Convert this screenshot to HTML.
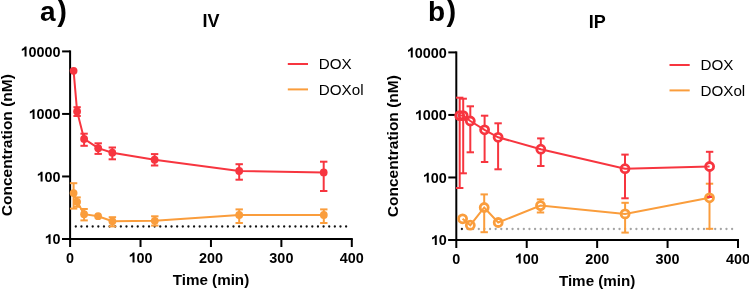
<!DOCTYPE html>
<html><head><meta charset="utf-8"><style>
html,body{margin:0;padding:0;background:#fff;}
body{width:749px;height:290px;overflow:hidden;position:relative;}
svg{position:absolute;left:0;top:0;will-change:transform;}
text{font-family:"Liberation Sans", sans-serif;fill:#000;}
.tk{font-size:14.4px;font-weight:bold;}
.al{font-size:15.2px;font-weight:bold;}
.yl{font-size:15.5px;}
.pl{font-size:29px;font-weight:bold;}
.ti{font-size:18px;font-weight:bold;}
.lg{font-size:15.2px;}
</style></head><body>
<svg width="749" height="290" viewBox="0 0 749 290">
<line x1="70.10" y1="50.40" x2="70.10" y2="240.00" stroke="#000" stroke-width="2"/>
<line x1="62.10" y1="239.00" x2="352.80" y2="239.00" stroke="#000" stroke-width="2"/>
<line x1="62.10" y1="51.40" x2="70.10" y2="51.40" stroke="#000" stroke-width="2"/>
<path d="M26.55,56.50L24.58,56.50L24.58,49.40Q23.51,50.31 21.82,50.88L21.82,48.98Q23.93,48.27 24.93,46.59L26.55,46.59Z" fill="#000"/>
<text x="28.57" y="56.50" class="tk">0</text>
<text x="36.57" y="56.50" class="tk">0</text>
<text x="44.58" y="56.50" class="tk">0</text>
<text x="52.59" y="56.50" class="tk">0</text>
<line x1="62.10" y1="113.93" x2="70.10" y2="113.93" stroke="#000" stroke-width="2"/>
<path d="M34.56,119.03L32.59,119.03L32.59,111.93Q31.52,112.85 29.83,113.41L29.83,111.51Q31.94,110.81 32.94,109.13L34.56,109.13Z" fill="#000"/>
<text x="36.57" y="119.03" class="tk">0</text>
<text x="44.58" y="119.03" class="tk">0</text>
<text x="52.59" y="119.03" class="tk">0</text>
<line x1="62.10" y1="176.47" x2="70.10" y2="176.47" stroke="#000" stroke-width="2"/>
<path d="M42.57,181.57L40.60,181.57L40.60,174.47Q39.53,175.38 37.84,175.94L37.84,174.04Q39.95,173.34 40.95,171.66L42.57,171.66Z" fill="#000"/>
<text x="44.58" y="181.57" class="tk">0</text>
<text x="52.59" y="181.57" class="tk">0</text>
<line x1="62.10" y1="239.00" x2="70.10" y2="239.00" stroke="#000" stroke-width="2"/>
<path d="M50.58,244.10L48.60,244.10L48.60,237.00Q47.54,237.91 45.85,238.47L45.85,236.58Q47.96,235.87 48.96,234.19L50.58,234.19Z" fill="#000"/>
<text x="52.59" y="244.10" class="tk">0</text>
<line x1="70.10" y1="239.00" x2="70.10" y2="247.00" stroke="#000" stroke-width="2"/>
<text x="66.10" y="262.50" class="tk">0</text>
<line x1="140.52" y1="239.00" x2="140.52" y2="247.00" stroke="#000" stroke-width="2"/>
<path d="M134.51,262.50L132.53,262.50L132.53,255.40Q131.47,256.31 129.78,256.88L129.78,254.98Q131.89,254.27 132.89,252.59L134.51,252.59Z" fill="#000"/>
<text x="136.52" y="262.50" class="tk">0</text>
<text x="144.53" y="262.50" class="tk">0</text>
<line x1="210.95" y1="239.00" x2="210.95" y2="247.00" stroke="#000" stroke-width="2"/>
<text x="198.94" y="262.50" class="tk">2</text>
<text x="206.95" y="262.50" class="tk">0</text>
<text x="214.95" y="262.50" class="tk">0</text>
<line x1="281.38" y1="239.00" x2="281.38" y2="247.00" stroke="#000" stroke-width="2"/>
<text x="269.36" y="262.50" class="tk">3</text>
<text x="277.37" y="262.50" class="tk">0</text>
<text x="285.38" y="262.50" class="tk">0</text>
<line x1="351.80" y1="239.00" x2="351.80" y2="247.00" stroke="#000" stroke-width="2"/>
<text x="339.79" y="262.50" class="tk">4</text>
<text x="347.80" y="262.50" class="tk">0</text>
<text x="355.80" y="262.50" class="tk">0</text>
<text transform="translate(210.95,284.60)" text-anchor="middle" class="al">Time (min)</text>
<text transform="translate(11.60,145.20) rotate(-90)" text-anchor="middle" class="al yl">Concentration (nM)</text>
<text x="40.10" y="21.1" class="pl" style="font-size:28px">a</text>
<text x="57.20" y="21.1" class="pl">)</text>
<text x="202.40" y="26.80" class="ti">IV</text>
<line x1="287.80" y1="64.00" x2="308.00" y2="64.00" stroke="#F7353F" stroke-width="2"/>
<line x1="287.80" y1="89.40" x2="308.00" y2="89.40" stroke="#FA9D3C" stroke-width="2"/>
<text transform="translate(318.80,69.20)" class="lg">DOX</text>
<text transform="translate(318.80,94.50)" class="lg">DOXol</text>
<circle cx="75.80" cy="226.50" r="1.15" fill="#111"/>
<circle cx="81.43" cy="226.50" r="1.15" fill="#111"/>
<circle cx="87.06" cy="226.50" r="1.15" fill="#111"/>
<circle cx="92.69" cy="226.50" r="1.15" fill="#111"/>
<circle cx="98.33" cy="226.50" r="1.15" fill="#111"/>
<circle cx="103.96" cy="226.50" r="1.15" fill="#111"/>
<circle cx="109.59" cy="226.50" r="1.15" fill="#111"/>
<circle cx="115.22" cy="226.50" r="1.15" fill="#111"/>
<circle cx="120.85" cy="226.50" r="1.15" fill="#111"/>
<circle cx="126.48" cy="226.50" r="1.15" fill="#111"/>
<circle cx="132.11" cy="226.50" r="1.15" fill="#111"/>
<circle cx="137.74" cy="226.50" r="1.15" fill="#111"/>
<circle cx="143.38" cy="226.50" r="1.15" fill="#111"/>
<circle cx="149.01" cy="226.50" r="1.15" fill="#111"/>
<circle cx="154.64" cy="226.50" r="1.15" fill="#111"/>
<circle cx="160.27" cy="226.50" r="1.15" fill="#111"/>
<circle cx="165.90" cy="226.50" r="1.15" fill="#111"/>
<circle cx="171.53" cy="226.50" r="1.15" fill="#111"/>
<circle cx="177.16" cy="226.50" r="1.15" fill="#111"/>
<circle cx="182.79" cy="226.50" r="1.15" fill="#111"/>
<circle cx="188.43" cy="226.50" r="1.15" fill="#111"/>
<circle cx="194.06" cy="226.50" r="1.15" fill="#111"/>
<circle cx="199.69" cy="226.50" r="1.15" fill="#111"/>
<circle cx="205.32" cy="226.50" r="1.15" fill="#111"/>
<circle cx="210.95" cy="226.50" r="1.15" fill="#111"/>
<circle cx="216.58" cy="226.50" r="1.15" fill="#111"/>
<circle cx="222.21" cy="226.50" r="1.15" fill="#111"/>
<circle cx="227.84" cy="226.50" r="1.15" fill="#111"/>
<circle cx="233.48" cy="226.50" r="1.15" fill="#111"/>
<circle cx="239.11" cy="226.50" r="1.15" fill="#111"/>
<circle cx="244.74" cy="226.50" r="1.15" fill="#111"/>
<circle cx="250.37" cy="226.50" r="1.15" fill="#111"/>
<circle cx="256.00" cy="226.50" r="1.15" fill="#111"/>
<circle cx="261.63" cy="226.50" r="1.15" fill="#111"/>
<circle cx="267.26" cy="226.50" r="1.15" fill="#111"/>
<circle cx="272.89" cy="226.50" r="1.15" fill="#111"/>
<circle cx="278.53" cy="226.50" r="1.15" fill="#111"/>
<circle cx="284.16" cy="226.50" r="1.15" fill="#111"/>
<circle cx="289.79" cy="226.50" r="1.15" fill="#111"/>
<circle cx="295.42" cy="226.50" r="1.15" fill="#111"/>
<circle cx="301.05" cy="226.50" r="1.15" fill="#111"/>
<circle cx="306.68" cy="226.50" r="1.15" fill="#111"/>
<circle cx="312.31" cy="226.50" r="1.15" fill="#111"/>
<circle cx="317.94" cy="226.50" r="1.15" fill="#111"/>
<circle cx="323.58" cy="226.50" r="1.15" fill="#111"/>
<circle cx="329.21" cy="226.50" r="1.15" fill="#111"/>
<circle cx="334.84" cy="226.50" r="1.15" fill="#111"/>
<circle cx="340.47" cy="226.50" r="1.15" fill="#111"/>
<circle cx="346.10" cy="226.50" r="1.15" fill="#111"/>
<path d="M73.60,193.10 L77.10,201.80 L84.10,214.20 L98.10,216.20 L112.40,221.30 L154.80,220.80 L239.20,215.00 L323.80,215.00" fill="none" stroke="#FA9D3C" stroke-width="2"/>
<line x1="73.60" y1="183.20" x2="73.60" y2="208.60" stroke="#FA9D3C" stroke-width="2"/>
<line x1="69.90" y1="183.20" x2="77.30" y2="183.20" stroke="#FA9D3C" stroke-width="2"/>
<line x1="69.90" y1="208.60" x2="77.30" y2="208.60" stroke="#FA9D3C" stroke-width="2"/>
<line x1="77.10" y1="197.40" x2="77.10" y2="206.80" stroke="#FA9D3C" stroke-width="2"/>
<line x1="73.40" y1="197.40" x2="80.80" y2="197.40" stroke="#FA9D3C" stroke-width="2"/>
<line x1="73.40" y1="206.80" x2="80.80" y2="206.80" stroke="#FA9D3C" stroke-width="2"/>
<line x1="84.10" y1="209.00" x2="84.10" y2="220.40" stroke="#FA9D3C" stroke-width="2"/>
<line x1="80.40" y1="209.00" x2="87.80" y2="209.00" stroke="#FA9D3C" stroke-width="2"/>
<line x1="80.40" y1="220.40" x2="87.80" y2="220.40" stroke="#FA9D3C" stroke-width="2"/>
<line x1="112.40" y1="217.20" x2="112.40" y2="226.40" stroke="#FA9D3C" stroke-width="2"/>
<line x1="108.70" y1="217.20" x2="116.10" y2="217.20" stroke="#FA9D3C" stroke-width="2"/>
<line x1="108.70" y1="226.40" x2="116.10" y2="226.40" stroke="#FA9D3C" stroke-width="2"/>
<line x1="154.80" y1="216.30" x2="154.80" y2="225.60" stroke="#FA9D3C" stroke-width="2"/>
<line x1="151.10" y1="216.30" x2="158.50" y2="216.30" stroke="#FA9D3C" stroke-width="2"/>
<line x1="151.10" y1="225.60" x2="158.50" y2="225.60" stroke="#FA9D3C" stroke-width="2"/>
<line x1="239.20" y1="209.40" x2="239.20" y2="223.00" stroke="#FA9D3C" stroke-width="2"/>
<line x1="235.50" y1="209.40" x2="242.90" y2="209.40" stroke="#FA9D3C" stroke-width="2"/>
<line x1="235.50" y1="223.00" x2="242.90" y2="223.00" stroke="#FA9D3C" stroke-width="2"/>
<line x1="323.80" y1="209.40" x2="323.80" y2="223.00" stroke="#FA9D3C" stroke-width="2"/>
<line x1="320.10" y1="209.40" x2="327.50" y2="209.40" stroke="#FA9D3C" stroke-width="2"/>
<line x1="320.10" y1="223.00" x2="327.50" y2="223.00" stroke="#FA9D3C" stroke-width="2"/>
<path d="M73.60,70.80 L77.10,111.40 L84.10,138.90 L98.20,148.20 L112.30,152.70 L154.60,159.70 L239.20,171.00 L323.70,172.40" fill="none" stroke="#F7353F" stroke-width="2"/>
<line x1="77.10" y1="107.20" x2="77.10" y2="116.00" stroke="#F7353F" stroke-width="2"/>
<line x1="73.40" y1="107.20" x2="80.80" y2="107.20" stroke="#F7353F" stroke-width="2"/>
<line x1="73.40" y1="116.00" x2="80.80" y2="116.00" stroke="#F7353F" stroke-width="2"/>
<line x1="84.10" y1="133.70" x2="84.10" y2="145.80" stroke="#F7353F" stroke-width="2"/>
<line x1="80.40" y1="133.70" x2="87.80" y2="133.70" stroke="#F7353F" stroke-width="2"/>
<line x1="80.40" y1="145.80" x2="87.80" y2="145.80" stroke="#F7353F" stroke-width="2"/>
<line x1="98.20" y1="143.30" x2="98.20" y2="153.90" stroke="#F7353F" stroke-width="2"/>
<line x1="94.50" y1="143.30" x2="101.90" y2="143.30" stroke="#F7353F" stroke-width="2"/>
<line x1="94.50" y1="153.90" x2="101.90" y2="153.90" stroke="#F7353F" stroke-width="2"/>
<line x1="112.30" y1="147.50" x2="112.30" y2="159.30" stroke="#F7353F" stroke-width="2"/>
<line x1="108.60" y1="147.50" x2="116.00" y2="147.50" stroke="#F7353F" stroke-width="2"/>
<line x1="108.60" y1="159.30" x2="116.00" y2="159.30" stroke="#F7353F" stroke-width="2"/>
<line x1="154.60" y1="154.10" x2="154.60" y2="165.50" stroke="#F7353F" stroke-width="2"/>
<line x1="150.90" y1="154.10" x2="158.30" y2="154.10" stroke="#F7353F" stroke-width="2"/>
<line x1="150.90" y1="165.50" x2="158.30" y2="165.50" stroke="#F7353F" stroke-width="2"/>
<line x1="239.20" y1="164.20" x2="239.20" y2="179.70" stroke="#F7353F" stroke-width="2"/>
<line x1="235.50" y1="164.20" x2="242.90" y2="164.20" stroke="#F7353F" stroke-width="2"/>
<line x1="235.50" y1="179.70" x2="242.90" y2="179.70" stroke="#F7353F" stroke-width="2"/>
<line x1="323.70" y1="161.70" x2="323.70" y2="191.00" stroke="#F7353F" stroke-width="2"/>
<line x1="320.00" y1="161.70" x2="327.40" y2="161.70" stroke="#F7353F" stroke-width="2"/>
<line x1="320.00" y1="191.00" x2="327.40" y2="191.00" stroke="#F7353F" stroke-width="2"/>
<circle cx="73.60" cy="70.80" r="3.9" fill="#F7353F"/>
<circle cx="77.10" cy="111.40" r="3.9" fill="#F7353F"/>
<circle cx="84.10" cy="138.90" r="3.9" fill="#F7353F"/>
<circle cx="98.20" cy="148.20" r="3.9" fill="#F7353F"/>
<circle cx="112.30" cy="152.70" r="3.9" fill="#F7353F"/>
<circle cx="154.60" cy="159.70" r="3.9" fill="#F7353F"/>
<circle cx="239.20" cy="171.00" r="3.9" fill="#F7353F"/>
<circle cx="323.70" cy="172.40" r="3.9" fill="#F7353F"/>
<circle cx="73.60" cy="193.10" r="3.9" fill="#FA9D3C"/>
<circle cx="77.10" cy="201.80" r="3.9" fill="#FA9D3C"/>
<circle cx="84.10" cy="214.20" r="3.9" fill="#FA9D3C"/>
<circle cx="98.10" cy="216.20" r="3.9" fill="#FA9D3C"/>
<circle cx="112.40" cy="221.30" r="3.9" fill="#FA9D3C"/>
<circle cx="154.80" cy="220.80" r="3.9" fill="#FA9D3C"/>
<circle cx="239.20" cy="215.00" r="3.9" fill="#FA9D3C"/>
<circle cx="323.80" cy="215.00" r="3.9" fill="#FA9D3C"/>
<line x1="456.30" y1="51.40" x2="456.30" y2="241.00" stroke="#000" stroke-width="2"/>
<line x1="448.30" y1="240.00" x2="739.00" y2="240.00" stroke="#000" stroke-width="2"/>
<line x1="448.30" y1="52.40" x2="456.30" y2="52.40" stroke="#000" stroke-width="2"/>
<path d="M412.75,57.50L410.78,57.50L410.78,50.40Q409.71,51.31 408.02,51.88L408.02,49.98Q410.13,49.27 411.13,47.59L412.75,47.59Z" fill="#000"/>
<text x="414.77" y="57.50" class="tk">0</text>
<text x="422.77" y="57.50" class="tk">0</text>
<text x="430.78" y="57.50" class="tk">0</text>
<text x="438.79" y="57.50" class="tk">0</text>
<line x1="448.30" y1="114.93" x2="456.30" y2="114.93" stroke="#000" stroke-width="2"/>
<path d="M420.76,120.03L418.79,120.03L418.79,112.93Q417.72,113.85 416.03,114.41L416.03,112.51Q418.14,111.81 419.14,110.13L420.76,110.13Z" fill="#000"/>
<text x="422.77" y="120.03" class="tk">0</text>
<text x="430.78" y="120.03" class="tk">0</text>
<text x="438.79" y="120.03" class="tk">0</text>
<line x1="448.30" y1="177.47" x2="456.30" y2="177.47" stroke="#000" stroke-width="2"/>
<path d="M428.77,182.57L426.80,182.57L426.80,175.47Q425.73,176.38 424.04,176.94L424.04,175.04Q426.15,174.34 427.15,172.66L428.77,172.66Z" fill="#000"/>
<text x="430.78" y="182.57" class="tk">0</text>
<text x="438.79" y="182.57" class="tk">0</text>
<line x1="448.30" y1="240.00" x2="456.30" y2="240.00" stroke="#000" stroke-width="2"/>
<path d="M436.78,245.10L434.80,245.10L434.80,238.00Q433.74,238.91 432.05,239.47L432.05,237.58Q434.16,236.87 435.16,235.19L436.78,235.19Z" fill="#000"/>
<text x="438.79" y="245.10" class="tk">0</text>
<line x1="456.30" y1="240.00" x2="456.30" y2="248.00" stroke="#000" stroke-width="2"/>
<text x="452.30" y="263.50" class="tk">0</text>
<line x1="526.72" y1="240.00" x2="526.72" y2="248.00" stroke="#000" stroke-width="2"/>
<path d="M520.71,263.50L518.73,263.50L518.73,256.40Q517.67,257.31 515.98,257.88L515.98,255.98Q518.09,255.27 519.09,253.59L520.71,253.59Z" fill="#000"/>
<text x="522.72" y="263.50" class="tk">0</text>
<text x="530.73" y="263.50" class="tk">0</text>
<line x1="597.15" y1="240.00" x2="597.15" y2="248.00" stroke="#000" stroke-width="2"/>
<text x="585.14" y="263.50" class="tk">2</text>
<text x="593.15" y="263.50" class="tk">0</text>
<text x="601.15" y="263.50" class="tk">0</text>
<line x1="667.57" y1="240.00" x2="667.57" y2="248.00" stroke="#000" stroke-width="2"/>
<text x="655.56" y="263.50" class="tk">3</text>
<text x="663.57" y="263.50" class="tk">0</text>
<text x="671.58" y="263.50" class="tk">0</text>
<line x1="738.00" y1="240.00" x2="738.00" y2="248.00" stroke="#000" stroke-width="2"/>
<text x="725.99" y="263.50" class="tk">4</text>
<text x="734.00" y="263.50" class="tk">0</text>
<text x="742.00" y="263.50" class="tk">0</text>
<text transform="translate(597.15,285.60)" text-anchor="middle" class="al">Time (min)</text>
<text transform="translate(397.80,146.20) rotate(-90)" text-anchor="middle" class="al yl">Concentration (nM)</text>
<text x="428.10" y="21.1" class="pl" style="font-size:28px">b</text>
<text x="446.60" y="21.1" class="pl">)</text>
<text x="588.70" y="27.80" class="ti">IP</text>
<line x1="669.50" y1="65.00" x2="689.70" y2="65.00" stroke="#F7353F" stroke-width="2"/>
<line x1="669.50" y1="90.40" x2="689.70" y2="90.40" stroke="#FA9D3C" stroke-width="2"/>
<text transform="translate(700.50,70.20)" class="lg">DOX</text>
<text transform="translate(700.50,95.50)" class="lg">DOXol</text>
<circle cx="461.90" cy="229.00" r="1.15" fill="#222"/>
<circle cx="467.53" cy="229.00" r="1.15" fill="#a4a4a4"/>
<circle cx="473.16" cy="229.00" r="1.15" fill="#a4a4a4"/>
<circle cx="478.79" cy="229.00" r="1.15" fill="#a4a4a4"/>
<circle cx="484.42" cy="229.00" r="1.15" fill="#a4a4a4"/>
<circle cx="490.05" cy="229.00" r="1.15" fill="#a4a4a4"/>
<circle cx="495.67" cy="229.00" r="1.15" fill="#a4a4a4"/>
<circle cx="501.30" cy="229.00" r="1.15" fill="#a4a4a4"/>
<circle cx="506.93" cy="229.00" r="1.15" fill="#a4a4a4"/>
<circle cx="512.56" cy="229.00" r="1.15" fill="#a4a4a4"/>
<circle cx="518.19" cy="229.00" r="1.15" fill="#a4a4a4"/>
<circle cx="523.82" cy="229.00" r="1.15" fill="#a4a4a4"/>
<circle cx="529.45" cy="229.00" r="1.15" fill="#a4a4a4"/>
<circle cx="535.08" cy="229.00" r="1.15" fill="#a4a4a4"/>
<circle cx="540.71" cy="229.00" r="1.15" fill="#a4a4a4"/>
<circle cx="546.34" cy="229.00" r="1.15" fill="#a4a4a4"/>
<circle cx="551.97" cy="229.00" r="1.15" fill="#a4a4a4"/>
<circle cx="557.60" cy="229.00" r="1.15" fill="#a4a4a4"/>
<circle cx="563.23" cy="229.00" r="1.15" fill="#a4a4a4"/>
<circle cx="568.85" cy="229.00" r="1.15" fill="#a4a4a4"/>
<circle cx="574.48" cy="229.00" r="1.15" fill="#a4a4a4"/>
<circle cx="580.11" cy="229.00" r="1.15" fill="#a4a4a4"/>
<circle cx="585.74" cy="229.00" r="1.15" fill="#a4a4a4"/>
<circle cx="591.37" cy="229.00" r="1.15" fill="#a4a4a4"/>
<circle cx="597.00" cy="229.00" r="1.15" fill="#a4a4a4"/>
<circle cx="602.63" cy="229.00" r="1.15" fill="#a4a4a4"/>
<circle cx="608.26" cy="229.00" r="1.15" fill="#a4a4a4"/>
<circle cx="613.89" cy="229.00" r="1.15" fill="#a4a4a4"/>
<circle cx="619.52" cy="229.00" r="1.15" fill="#a4a4a4"/>
<circle cx="625.15" cy="229.00" r="1.15" fill="#a4a4a4"/>
<circle cx="630.77" cy="229.00" r="1.15" fill="#a4a4a4"/>
<circle cx="636.40" cy="229.00" r="1.15" fill="#a4a4a4"/>
<circle cx="642.03" cy="229.00" r="1.15" fill="#a4a4a4"/>
<circle cx="647.66" cy="229.00" r="1.15" fill="#a4a4a4"/>
<circle cx="653.29" cy="229.00" r="1.15" fill="#a4a4a4"/>
<circle cx="658.92" cy="229.00" r="1.15" fill="#a4a4a4"/>
<circle cx="664.55" cy="229.00" r="1.15" fill="#a4a4a4"/>
<circle cx="670.18" cy="229.00" r="1.15" fill="#a4a4a4"/>
<circle cx="675.81" cy="229.00" r="1.15" fill="#a4a4a4"/>
<circle cx="681.44" cy="229.00" r="1.15" fill="#a4a4a4"/>
<circle cx="687.07" cy="229.00" r="1.15" fill="#a4a4a4"/>
<circle cx="692.70" cy="229.00" r="1.15" fill="#a4a4a4"/>
<circle cx="698.33" cy="229.00" r="1.15" fill="#a4a4a4"/>
<circle cx="703.95" cy="229.00" r="1.15" fill="#a4a4a4"/>
<circle cx="709.58" cy="229.00" r="1.15" fill="#a4a4a4"/>
<circle cx="715.21" cy="229.00" r="1.15" fill="#a4a4a4"/>
<circle cx="720.84" cy="229.00" r="1.15" fill="#a4a4a4"/>
<circle cx="726.47" cy="229.00" r="1.15" fill="#a4a4a4"/>
<circle cx="732.10" cy="229.00" r="1.15" fill="#a4a4a4"/>
<path d="M462.60,218.80 L470.30,225.20 L484.20,207.50 L498.20,222.50 L540.50,205.60 L625.10,213.90 L709.50,197.80" fill="none" stroke="#FA9D3C" stroke-width="2"/>
<line x1="484.20" y1="194.40" x2="484.20" y2="203.30" stroke="#FA9D3C" stroke-width="2"/>
<line x1="484.20" y1="211.70" x2="484.20" y2="232.20" stroke="#FA9D3C" stroke-width="2"/>
<line x1="480.50" y1="194.40" x2="487.90" y2="194.40" stroke="#FA9D3C" stroke-width="2"/>
<line x1="480.50" y1="232.20" x2="487.90" y2="232.20" stroke="#FA9D3C" stroke-width="2"/>
<line x1="540.50" y1="199.40" x2="540.50" y2="201.40" stroke="#FA9D3C" stroke-width="2"/>
<line x1="540.50" y1="209.80" x2="540.50" y2="212.50" stroke="#FA9D3C" stroke-width="2"/>
<line x1="536.80" y1="199.40" x2="544.20" y2="199.40" stroke="#FA9D3C" stroke-width="2"/>
<line x1="536.80" y1="212.50" x2="544.20" y2="212.50" stroke="#FA9D3C" stroke-width="2"/>
<line x1="625.10" y1="202.80" x2="625.10" y2="209.70" stroke="#FA9D3C" stroke-width="2"/>
<line x1="625.10" y1="218.10" x2="625.10" y2="232.60" stroke="#FA9D3C" stroke-width="2"/>
<line x1="621.40" y1="202.80" x2="628.80" y2="202.80" stroke="#FA9D3C" stroke-width="2"/>
<line x1="621.40" y1="232.60" x2="628.80" y2="232.60" stroke="#FA9D3C" stroke-width="2"/>
<line x1="709.50" y1="183.70" x2="709.50" y2="193.60" stroke="#FA9D3C" stroke-width="2"/>
<line x1="709.50" y1="202.00" x2="709.50" y2="228.80" stroke="#FA9D3C" stroke-width="2"/>
<line x1="705.80" y1="183.70" x2="713.20" y2="183.70" stroke="#FA9D3C" stroke-width="2"/>
<line x1="705.80" y1="228.80" x2="713.20" y2="228.80" stroke="#FA9D3C" stroke-width="2"/>
<path d="M459.70,115.60 L463.20,115.60 L470.30,121.00 L484.60,129.80 L498.10,137.30 L540.80,149.20 L625.00,168.70 L709.60,166.50" fill="none" stroke="#F7353F" stroke-width="2"/>
<line x1="459.70" y1="97.70" x2="459.70" y2="111.40" stroke="#F7353F" stroke-width="2"/>
<line x1="459.70" y1="119.80" x2="459.70" y2="188.00" stroke="#F7353F" stroke-width="2"/>
<line x1="456.00" y1="97.70" x2="463.40" y2="97.70" stroke="#F7353F" stroke-width="2"/>
<line x1="456.00" y1="188.00" x2="463.40" y2="188.00" stroke="#F7353F" stroke-width="2"/>
<line x1="463.20" y1="98.70" x2="463.20" y2="111.40" stroke="#F7353F" stroke-width="2"/>
<line x1="463.20" y1="119.80" x2="463.20" y2="173.30" stroke="#F7353F" stroke-width="2"/>
<line x1="459.50" y1="98.70" x2="466.90" y2="98.70" stroke="#F7353F" stroke-width="2"/>
<line x1="459.50" y1="173.30" x2="466.90" y2="173.30" stroke="#F7353F" stroke-width="2"/>
<line x1="470.30" y1="106.30" x2="470.30" y2="116.80" stroke="#F7353F" stroke-width="2"/>
<line x1="470.30" y1="125.20" x2="470.30" y2="152.30" stroke="#F7353F" stroke-width="2"/>
<line x1="466.60" y1="106.30" x2="474.00" y2="106.30" stroke="#F7353F" stroke-width="2"/>
<line x1="466.60" y1="152.30" x2="474.00" y2="152.30" stroke="#F7353F" stroke-width="2"/>
<line x1="484.60" y1="115.70" x2="484.60" y2="125.60" stroke="#F7353F" stroke-width="2"/>
<line x1="484.60" y1="134.00" x2="484.60" y2="162.00" stroke="#F7353F" stroke-width="2"/>
<line x1="480.90" y1="115.70" x2="488.30" y2="115.70" stroke="#F7353F" stroke-width="2"/>
<line x1="480.90" y1="162.00" x2="488.30" y2="162.00" stroke="#F7353F" stroke-width="2"/>
<line x1="498.10" y1="123.30" x2="498.10" y2="133.10" stroke="#F7353F" stroke-width="2"/>
<line x1="498.10" y1="141.50" x2="498.10" y2="169.30" stroke="#F7353F" stroke-width="2"/>
<line x1="494.40" y1="123.30" x2="501.80" y2="123.30" stroke="#F7353F" stroke-width="2"/>
<line x1="494.40" y1="169.30" x2="501.80" y2="169.30" stroke="#F7353F" stroke-width="2"/>
<line x1="540.80" y1="138.40" x2="540.80" y2="145.00" stroke="#F7353F" stroke-width="2"/>
<line x1="540.80" y1="153.40" x2="540.80" y2="166.00" stroke="#F7353F" stroke-width="2"/>
<line x1="537.10" y1="138.40" x2="544.50" y2="138.40" stroke="#F7353F" stroke-width="2"/>
<line x1="537.10" y1="166.00" x2="544.50" y2="166.00" stroke="#F7353F" stroke-width="2"/>
<line x1="625.00" y1="154.60" x2="625.00" y2="164.50" stroke="#F7353F" stroke-width="2"/>
<line x1="625.00" y1="172.90" x2="625.00" y2="198.30" stroke="#F7353F" stroke-width="2"/>
<line x1="621.30" y1="154.60" x2="628.70" y2="154.60" stroke="#F7353F" stroke-width="2"/>
<line x1="621.30" y1="198.30" x2="628.70" y2="198.30" stroke="#F7353F" stroke-width="2"/>
<line x1="709.60" y1="151.80" x2="709.60" y2="162.30" stroke="#F7353F" stroke-width="2"/>
<line x1="709.60" y1="170.70" x2="709.60" y2="197.00" stroke="#F7353F" stroke-width="2"/>
<line x1="705.90" y1="151.80" x2="713.30" y2="151.80" stroke="#F7353F" stroke-width="2"/>
<line x1="705.90" y1="197.00" x2="713.30" y2="197.00" stroke="#F7353F" stroke-width="2"/>
<circle cx="459.70" cy="115.60" r="4.0" fill="none" stroke="#F7353F" stroke-width="2.8"/>
<circle cx="463.20" cy="115.60" r="4.0" fill="none" stroke="#F7353F" stroke-width="2.8"/>
<circle cx="470.30" cy="121.00" r="4.0" fill="none" stroke="#F7353F" stroke-width="2.8"/>
<circle cx="484.60" cy="129.80" r="4.0" fill="none" stroke="#F7353F" stroke-width="2.8"/>
<circle cx="498.10" cy="137.30" r="4.0" fill="none" stroke="#F7353F" stroke-width="2.8"/>
<circle cx="540.80" cy="149.20" r="4.0" fill="none" stroke="#F7353F" stroke-width="2.8"/>
<circle cx="625.00" cy="168.70" r="4.0" fill="none" stroke="#F7353F" stroke-width="2.8"/>
<circle cx="709.60" cy="166.50" r="4.0" fill="none" stroke="#F7353F" stroke-width="2.8"/>
<circle cx="462.60" cy="218.80" r="4.0" fill="none" stroke="#FA9D3C" stroke-width="2.8"/>
<circle cx="470.30" cy="225.20" r="4.0" fill="none" stroke="#FA9D3C" stroke-width="2.8"/>
<circle cx="484.20" cy="207.50" r="4.0" fill="none" stroke="#FA9D3C" stroke-width="2.8"/>
<circle cx="498.20" cy="222.50" r="4.0" fill="none" stroke="#FA9D3C" stroke-width="2.8"/>
<circle cx="540.50" cy="205.60" r="4.0" fill="none" stroke="#FA9D3C" stroke-width="2.8"/>
<circle cx="625.10" cy="213.90" r="4.0" fill="none" stroke="#FA9D3C" stroke-width="2.8"/>
<circle cx="709.50" cy="197.80" r="4.0" fill="none" stroke="#FA9D3C" stroke-width="2.8"/>
</svg>
</body></html>
